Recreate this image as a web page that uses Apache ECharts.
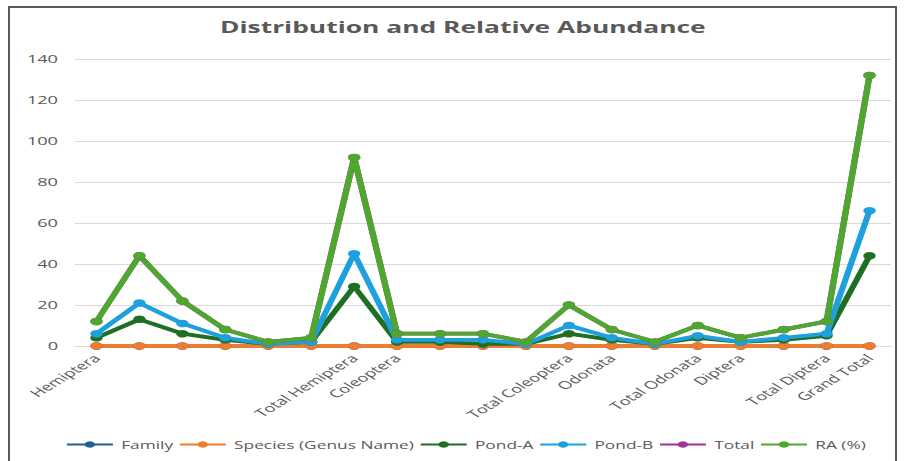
<!DOCTYPE html>
<html>
<head>
<meta charset="utf-8">
<script src="https://cdn.jsdelivr.net/npm/echarts@6/dist/echarts.min.js"></script>
<style>
  html, body { margin: 0; padding: 0; background: #fff; overflow: hidden; }
  #frame { position: absolute; left: 8px; top: 6px; width: 889px; height: 470px;
           border: 2px solid #5a5a5a; border-bottom: none; box-sizing: border-box; }
  /* the chart is laid out narrow and widened horizontally */
  #chart { position: absolute; left: 0; top: 0; height: 461px; transform-origin: 0 0; }
</style>
</head>
<body>
<div id="frame"></div>
<div id="chart"></div>
<script>
// Axis labels: order rows carry the name, family rows stay blank
const categories = [
  'Hemiptera', '', '', '', '', '', 'Total Hemiptera',
  'Coleoptera', '', '', '', 'Total Coleoptera',
  'Odonata', '', 'Total Odonata',
  'Diptera', '', 'Total Diptera',
  'Grand Total'
];

const family  = [0, 0, 0, 0, 0, 0, 0, 0, 0, 0, 0, 0, 0, 0, 0, 0, 0, 0, 0];
const species = [0, 0, 0, 0, 0, 0, 0, 0, 0, 0, 0, 0, 0, 0, 0, 0, 0, 0, 0];
const pondA   = [4, 13, 6, 3, 1, 2, 29, 2, 2, 1, 1, 6, 3, 1, 4, 2, 3, 5, 44];
const pondB   = [6, 21, 11, 4, 1, 2, 45, 3, 3, 3, 1, 10, 4, 1, 5, 2, 4, 6, 66];
const total   = [12, 44, 22, 8, 2, 4, 92, 6, 6, 6, 2, 20, 8, 2, 10, 4, 8, 12, 132];
const ra      = [12, 44, 22, 8, 2, 4, 92, 6, 6, 6, 2, 20, 8, 2, 10, 4, 8, 12, 132];

const yTicks = { min: 0, max: 140, interval: 20 };

const seriesDefs = [
  { name: 'Family', data: family, color: '#255e91' },
  { name: 'Species (Genus Name)', data: species, color: '#ed7d31' },
  { name: 'Pond-A', data: pondA, color: '#1e6e23' },
  { name: 'Pond-B', data: pondB, color: '#1ea0dc' },
  { name: 'Total', data: total, color: '#a0329a' },
  { name: 'RA (%)', data: ra, color: '#4ea72e' }
];

// horizontal stretch of the whole drawing
const STRETCH = 1.65;
const PAGE_W = 907;
const innerW = PAGE_W / STRETCH;
const el = document.getElementById('chart');
el.style.width = innerW + 'px';
el.style.transform = 'scaleX(' + STRETCH + ')';

const sx = v => v / STRETCH;
const font = 'Open Sans';

const chart = echarts.init(el, null, { renderer: 'svg', width: innerW, height: 461 });

chart.setOption({
  animation: false,
  backgroundColor: 'transparent',
  title: {
    text: 'Distribution and Relative Abundance',
    left: sx(220),
    top: 19,
    padding: 0,
    textStyle: { fontFamily: font, fontSize: 16, fontWeight: 'bold', color: '#595959' }
  },
  grid: { left: sx(75), right: sx(16), top: 59, height: 287, containLabel: false },
  legend: {
    bottom: 6,
    left: sx(57),
    width: sx(840),
    itemWidth: sx(46),
    itemHeight: 8,
    itemGap: sx(5),
    textStyle: { fontFamily: font, fontSize: 10.5, color: '#595959' },
    data: seriesDefs.map(s => s.name)
  },
  xAxis: {
    type: 'category',
    data: categories,
    boundaryGap: true,
    axisLine: { show: true, lineStyle: { color: '#d9d9d9', width: 1 } },
    axisTick: { show: false },
    axisLabel: {
      interval: 0,
      rotate: 45,
      margin: 10,
      fontFamily: font,
      fontSize: 11,
      color: '#595959'
    }
  },
  yAxis: {
    type: 'value',
    min: yTicks.min,
    max: yTicks.max,
    interval: yTicks.interval,
    axisLine: { show: false },
    axisTick: { show: false },
    axisLabel: { fontFamily: font, fontSize: 11, color: '#595959', margin: sx(17) },
    splitLine: { lineStyle: { color: '#d9d9d9', width: 1 } }
  },
  series: seriesDefs.map(s => ({
    name: s.name,
    type: 'line',
    data: s.data,
    symbol: 'circle',
    symbolSize: 7.5,
    showAllSymbol: true,
    lineStyle: { color: s.color, width: 3.8 },
    itemStyle: { color: s.color },
    emphasis: { disabled: true }
  }))
});
</script>
</body>
</html>
